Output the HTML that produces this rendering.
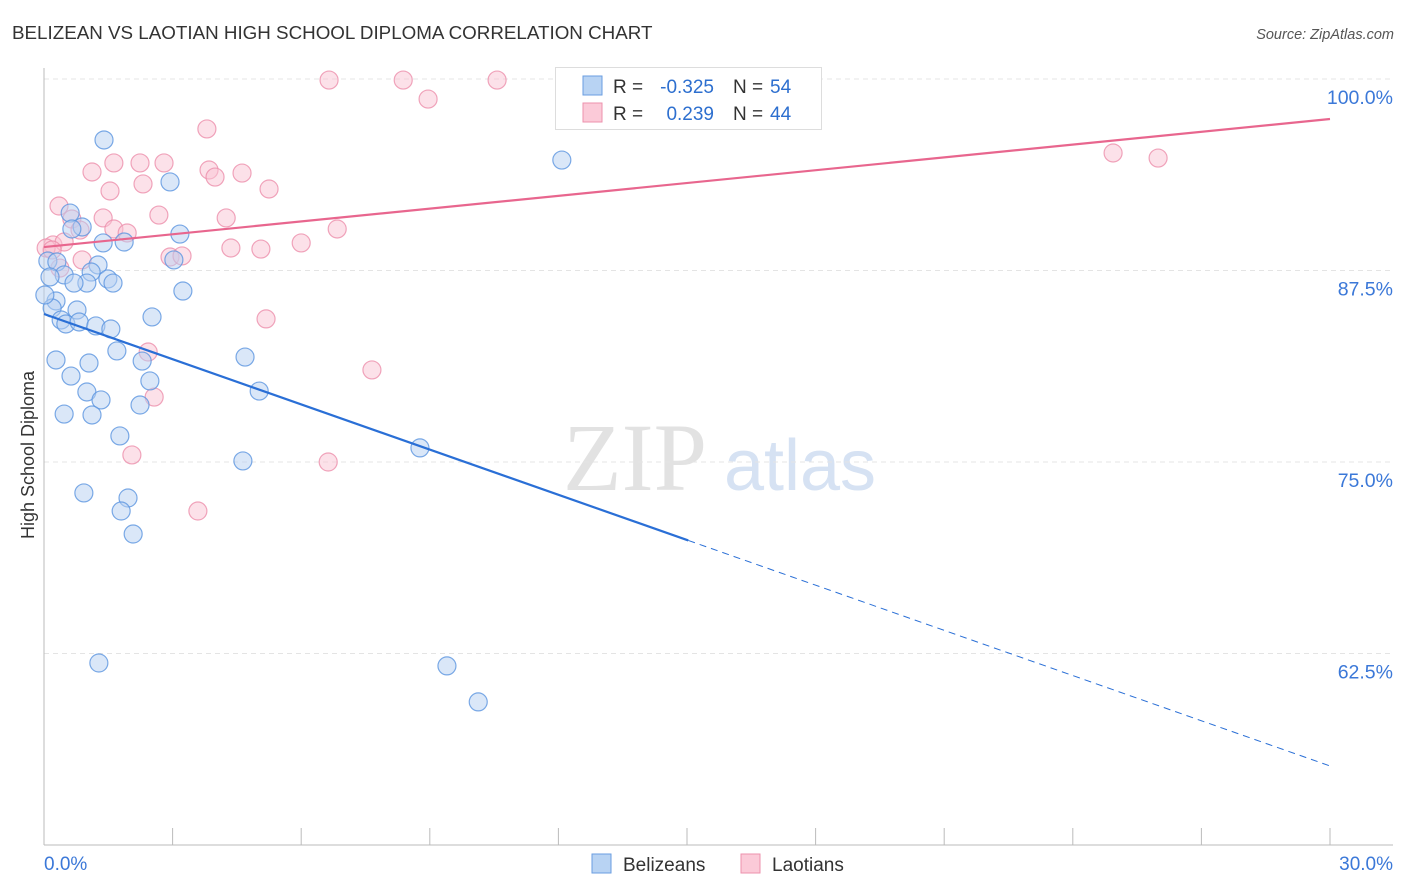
<!DOCTYPE html>
<html><head><meta charset="utf-8">
<style>
body{margin:0;background:#fff;width:1406px;height:892px;overflow:hidden;font-family:"Liberation Sans",sans-serif}
svg{position:absolute;left:0;top:0}
</style></head><body>
<svg width="1406" height="892">
<text x="12" y="39" font-size="18.8" fill="#333">BELIZEAN VS LAOTIAN HIGH SCHOOL DIPLOMA CORRELATION CHART</text>
<text x="1394" y="39" font-size="14.5" fill="#555" font-style="italic" text-anchor="end">Source: ZipAtlas.com</text>
<g><text x="635" y="490" font-size="96" fill="#e2e2e2" font-family="Liberation Serif" text-anchor="middle">ZIP</text><text x="800" y="490" font-size="72" fill="#d6e2f3" text-anchor="middle">atlas</text></g>
<g id="grid"></g>
<g id="axes"></g>
<g id="marks"></g>
<text transform="translate(34,455) rotate(-90)" font-size="18" fill="#333" text-anchor="middle">High School Diploma</text>
<g>
<rect x="555.5" y="67.5" width="266" height="62" fill="#fff" stroke="#ddd"/>
<rect x="583" y="76" width="19" height="19" fill="#b8d3f3" stroke="#6a9ee0"/>
<rect x="583" y="103" width="19" height="19" fill="#fbcad8" stroke="#ec91ad"/>
<text x="613" y="93" font-size="19" fill="#333">R =</text>
<text x="714" y="93" font-size="19" fill="#2d6fcf" text-anchor="end">-0.325</text>
<text x="733" y="93" font-size="19" fill="#333">N =</text>
<text x="770" y="93" font-size="19" fill="#2d6fcf">54</text>
<text x="613" y="120" font-size="19" fill="#333">R =</text>
<text x="714" y="120" font-size="19" fill="#2d6fcf" text-anchor="end">0.239</text>
<text x="733" y="120" font-size="19" fill="#333">N =</text>
<text x="770" y="120" font-size="19" fill="#2d6fcf">44</text>
</g>
<g>
<rect x="592" y="854" width="19" height="19" fill="#b8d3f3" stroke="#6a9ee0"/>
<text x="623" y="871" font-size="19" fill="#333">Belizeans</text>
<rect x="741" y="854" width="19" height="19" fill="#fbcad8" stroke="#ec91ad"/>
<text x="772" y="871" font-size="19" fill="#333">Laotians</text>
</g>
</svg>
<script>
const blueX=[1.40,2.94,12.08,0.61,0.89,0.65,3.17,1.38,1.87,3.03,0.09,0.30,1.26,1.10,0.47,1.49,1.00,1.61,0.70,0.14,3.24,0.28,0.19,0.77,0.40,0.51,0.82,1.21,1.56,2.52,0.28,1.05,1.70,2.29,4.69,0.63,2.47,1.00,1.33,5.02,2.24,0.47,1.12,1.77,4.64,8.77,0.93,1.96,1.80,2.08,1.28,9.40,10.13,0.02];
const blueY=[96.02,93.28,94.71,91.25,90.34,90.21,89.88,89.30,89.36,88.19,88.12,88.06,87.86,87.40,87.21,86.95,86.68,86.68,86.68,87.08,86.16,85.51,85.05,84.92,84.27,84.01,84.14,83.88,83.68,84.47,81.66,81.46,82.25,81.59,81.85,80.61,80.29,79.57,79.05,79.63,78.72,78.13,78.07,76.70,75.07,75.92,72.98,72.65,71.80,70.30,61.88,61.69,59.34,85.90];
const pinkX=[6.65,8.38,10.57,8.96,3.80,1.63,2.24,2.80,1.12,3.85,2.31,3.99,4.62,5.25,1.54,0.35,2.68,1.38,4.25,0.65,1.63,1.94,6.84,0.84,0.21,0.47,6.00,4.36,5.06,2.94,3.22,0.89,0.05,5.18,2.43,7.65,2.57,2.05,6.63,3.59,24.94,25.99,0.19,0.37];
const pinkY=[99.93,99.93,99.93,98.69,96.74,94.52,94.52,94.52,93.93,94.06,93.15,93.60,93.86,92.82,92.69,91.71,91.12,90.93,90.93,90.86,90.21,89.95,90.21,90.14,89.17,89.36,89.30,88.97,88.90,88.38,88.45,88.19,88.97,84.34,82.18,81.01,79.24,75.46,75.00,71.80,95.17,94.84,88.84,87.66];
const blueTrend=[84.66,55.16];
const blueSolidEnd=15.03;
const pinkTrend=[89.03,97.39];
const yTicks=[100,87.5,75,62.5];
const yTickLabels=["100.0%","87.5%","75.0%","62.5%"];
const xTickVals=[0,3,6,9,12,15,18,21,24,27,30];

const X0=44,X1=1330,YTOP=79,PXPER=191.5/12.5;
const sx=v=>X0+(v/30)*(X1-X0);
const sy=v=>YTOP+(100-v)*PXPER;
const NS="http://www.w3.org/2000/svg";
function mk(tag,attrs,parent){const e=document.createElementNS(NS,tag);for(const k in attrs)e.setAttribute(k,attrs[k]);parent.appendChild(e);return e;}
const grid=document.getElementById('grid'),axes=document.getElementById('axes'),marks=document.getElementById('marks');
yTicks.forEach((t,i)=>{
  const l=mk('line',{x1:X0,x2:1393,y1:sy(t),y2:sy(t),stroke:'#e4e4e4','stroke-dasharray':'5,4'},grid);
  
  
  const tx=mk('text',{x:1393,y:sy(t)+25,'font-size':19.5,fill:'#3b78d8','text-anchor':'end'},grid);
  tx.textContent=yTickLabels[i];
  
  
});
mk('line',{x1:X0,x2:X0,y1:68,y2:845,stroke:'#bbb'},axes);
mk('line',{x1:X0,x2:1393,y1:845,y2:845,stroke:'#bbb'},axes);
xTickVals.forEach(v=>{
  const t=mk('line',{x1:sx(v),x2:sx(v),y1:828,y2:845,stroke:'#bbb'},axes);
  
  
});
const xl0=mk('text',{x:44,y:870,'font-size':19,fill:'#3b78d8'},axes);xl0.textContent="0.0%";

const xl1=mk('text',{x:1393,y:870,'font-size':19,fill:'#3b78d8','text-anchor':'end'},axes);xl1.textContent="30.0%";

function pts(xs,ys,fill,stroke,name){
  xs.forEach((x,i)=>{
    const c=mk('circle',{cx:sx(x),cy:sy(ys[i]),r:9,fill:fill,'fill-opacity':0.5,stroke:stroke,'stroke-opacity':0.8,'stroke-width':1.2},marks);
    
    
  });
}
pts(pinkX,pinkY,'#f9c4d3','#ec8fab','laotian-point');
pts(blueX,blueY,'#b5d0f2','#5b95e0','belizean-point');
const by=v=>blueTrend[0]+(blueTrend[1]-blueTrend[0])*v/30;
const bl=mk('line',{x1:sx(0),y1:sy(by(0)),x2:sx(blueSolidEnd),y2:sy(by(blueSolidEnd)),stroke:'#2a6fd6','stroke-width':2.2},marks);

const bd=mk('line',{x1:sx(blueSolidEnd),y1:sy(by(blueSolidEnd)),x2:sx(30),y2:sy(by(30)),stroke:'#2a6fd6','stroke-width':1,'stroke-dasharray':'7,5'},marks);

const pl=mk('line',{x1:sx(0),y1:sy(pinkTrend[0]),x2:sx(30),y2:sy(pinkTrend[1]),stroke:'#e8668e','stroke-width':2.2},marks);

</script>
</body></html>
